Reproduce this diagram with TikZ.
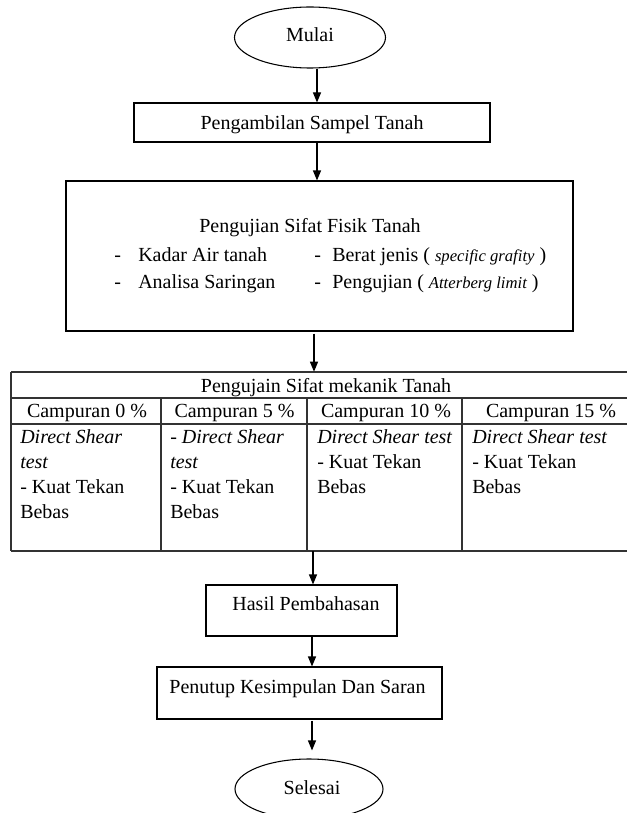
\documentclass[tikz,border=0pt]{standalone}
\usepackage{fontspec}
\setmainfont{Liberation Serif}
\usetikzlibrary{shapes.geometric,arrows.meta}
\begin{document}
\begin{tikzpicture}[x=0.75pt,y=-0.75pt,
  txt/.style={inner sep=0pt,font=\fontsize{15}{18.75}\selectfont,anchor=base},
  lt/.style={txt,anchor=base west},
  boxst/.style={draw,line width=0.8pt,inner sep=0pt},
  arr/.style={line width=0.8pt,-{Triangle[length=7.5pt,width=6pt]}},
  gridln/.style={line width=1pt,draw=black!80}]
\useasboundingbox (0,0) rectangle (627,813);
\newcommand\smit[1]{{\fontsize{12.5}{15}\selectfont\itshape #1}}
% x positions of connectors
\coordinate (a1) at (317,0);
\coordinate (a2) at (317,0);
\coordinate (a3) at (314,0);
\coordinate (a4) at (313,0);
\coordinate (a5) at (312,0);
% Mulai
\node[boxst,ellipse,minimum width=113.25pt,minimum height=45.75pt] (mulai) at (310,37.5) {};
\node[txt] (mulaiT) at (310,42) {Mulai};
% Pengambilan
\node[boxst,minimum width=267pt,minimum height=29.25pt] (peng) at (312,122.5) {};
\node[txt] (pengT) at (312,130) {Pengambilan Sampel Tanah};
% Fisik
\node[boxst,minimum width=380.25pt,minimum height=112.5pt] (fisik) at (319.5,256) {};
\node[txt] (fisikT) at (310,232) {Pengujian Sifat Fisik Tanah};
\node[lt] (d1) at (114,261) {-};
\node[lt] (f1) at (138,261) {Kadar Air tanah};
\node[lt] (d2) at (114,288) {-};
\node[lt] (f2) at (138,288) {Analisa Saringan};
\node[lt] (d3) at (314,261) {-};
\node[lt] (f3) at (332,261) {Berat jenis ( \smit{specific grafity} )};
\node[lt] (d4) at (314,288) {-};
\node[lt] (f4) at (332,288) {Pengujian ( \smit{Atterberg limit} )};
% Table
\node[minimum width=462pt,minimum height=134.25pt,inner sep=0pt] (tbl) at (319,461.5) {};
\draw[gridln] (11,372) -- (627,372);
\draw[gridln] (11,398) -- (627,398);
\draw[gridln] (11,424) -- (627,424);
\draw[gridln] (11,551) -- (627,551);
\draw[gridln] (11,372) -- (11,551);
\draw[gridln] (161,398) -- (161,551);
\draw[gridln] (307,398) -- (307,551);
\draw[gridln] (462,398) -- (462,551);
\node[txt] (tblT) at (326,392) {Pengujain Sifat mekanik Tanah};
\node[txt] (h1) at (87,417) {Campuran 0 \%};
\node[txt] (h2) at (234.5,417) {Campuran 5 \%};
\node[txt] (h3) at (386,417) {Campuran 10 \%};
\node[txt] (h4) at (551,417) {Campuran 15 \%};
\node[lt] (c1a) at (20,443) {\itshape Direct Shear};
\node[lt] (c1b) at (20,468) {\itshape test};
\node[lt] (c1c) at (20,493) {- Kuat Tekan};
\node[lt] (c1d) at (20,518) {Bebas};
\node[lt] (c2a) at (170,443) {- \itshape Direct Shear};
\node[lt] (c2b) at (170,468) {\itshape test};
\node[lt] (c2c) at (170,493) {- Kuat Tekan};
\node[lt] (c2d) at (170,518) {Bebas};
\node[lt] (c3a) at (317,443) {\itshape Direct Shear test};
\node[lt] (c3b) at (317,468) {- Kuat Tekan};
\node[lt] (c3c) at (317,493) {Bebas};
\node[lt] (c4a) at (472,443) {\itshape Direct Shear test};
\node[lt] (c4b) at (472,468) {- Kuat Tekan};
\node[lt] (c4c) at (472,493) {Bebas};
% Hasil
\node[boxst,minimum width=143.25pt,minimum height=38.25pt] (hasil) at (301.5,610.5) {};
\node[txt] (hasilT) at (306,610) {Hasil Pembahasan};
% Penutup
\node[boxst,minimum width=213.75pt,minimum height=39pt] (penutup) at (299.5,693) {};
\node[txt] (penutupT) at (297.5,693) {Penutup Kesimpulan Dan Saran};
% Selesai
\node[boxst,ellipse,minimum width=111pt,minimum height=45pt] (selesai) at (309,789) {};
\node[txt] (selesaiT) at (312,794) {Selesai};
% connectors
\draw[arr] (mulai.south -| a1) -- (peng.north -| a1);
\draw[arr] (peng.south -| a2) -- (fisik.north -| a2);
\draw[arr] ([yshift=-1.5pt]fisik.south -| a3) -- (tbl.north -| a3);
\draw[arr] (tbl.south -| a4) -- (hasil.north -| a4);
\draw[arr] (hasil.south -| a5) -- (penutup.north -| a5);
\draw[arr] ([yshift=-1pt]penutup.south -| a5) -- ([yshift=6pt]selesai.north -| a5);
\end{tikzpicture}
\end{document}
